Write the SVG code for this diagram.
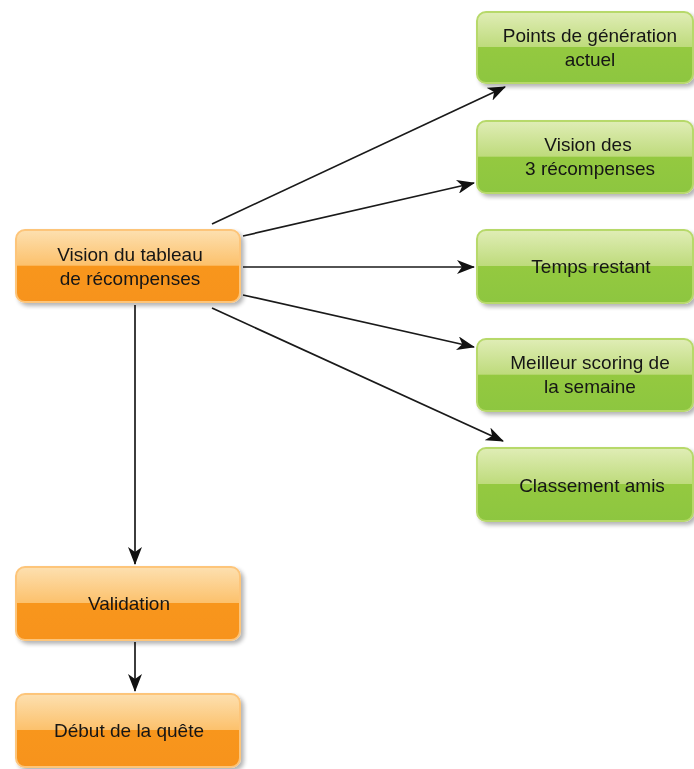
<svg xmlns="http://www.w3.org/2000/svg" width="694" height="769" viewBox="0 0 694 769">
<style>
.t{font-family:"Liberation Sans",Arial,sans-serif;font-size:19px;fill:#151515;text-anchor:middle}
.ob{fill:url(#og);stroke:#fdc57a;stroke-width:2}
.gb{fill:url(#gg);stroke:#b7d96a;stroke-width:2}
.c{stroke:#1a1a1a;stroke-width:1.7;fill:none;marker-end:url(#ah)}
</style>
<defs>
<linearGradient id="og" x1="0" y1="0" x2="0" y2="1">
<stop offset="0" stop-color="#fde0b0"/>
<stop offset="0.49" stop-color="#fcc16c"/>
<stop offset="0.5" stop-color="#f8961f"/>
<stop offset="1" stop-color="#f7931e"/>
</linearGradient>
<linearGradient id="gg" x1="0" y1="0" x2="0" y2="1">
<stop offset="0" stop-color="#e0edb6"/>
<stop offset="0.49" stop-color="#bedb7c"/>
<stop offset="0.5" stop-color="#94c940"/>
<stop offset="1" stop-color="#8dc63f"/>
</linearGradient>
<filter id="sh" x="-10%" y="-10%" width="125%" height="130%">
<feGaussianBlur in="SourceAlpha" stdDeviation="2"/>
<feOffset dx="3" dy="3" result="b"/>
<feComponentTransfer><feFuncA type="linear" slope="0.3"/></feComponentTransfer>
<feMerge><feMergeNode/><feMergeNode in="SourceGraphic"/></feMerge>
</filter>
<marker id="ah" viewBox="0 0 18 14" refX="17" refY="7" markerWidth="18" markerHeight="14" markerUnits="userSpaceOnUse" orient="auto">
<path d="M0,0 L18,7 L0,14 L5,7 Z" fill="#111"/>
</marker>
</defs>
<g id="connectors">
<line class="c" x1="212" y1="224" x2="505" y2="87"/>
<line class="c" x1="243" y1="236" x2="474" y2="183"/>
<line class="c" x1="243" y1="267" x2="474" y2="267"/>
<line class="c" x1="243" y1="295" x2="474" y2="347"/>
<line class="c" x1="212" y1="308" x2="503" y2="441"/>
<line class="c" x1="135" y1="305" x2="135" y2="564"/>
<line class="c" x1="135" y1="642" x2="135" y2="691"/>
</g>
<g id="n-vision-tableau" filter="url(#sh)">
<rect class="ob" x="16" y="230" width="224" height="72" rx="9"/>
<text class="t" x="130" y="261">Vision du tableau</text>
<text class="t" x="130" y="285">de récompenses</text>
</g>
<g id="n-validation" filter="url(#sh)">
<rect class="ob" x="16" y="567" width="224" height="73" rx="9"/>
<text class="t" x="129" y="610">Validation</text>
</g>
<g id="n-debut" filter="url(#sh)">
<rect class="ob" x="16" y="694" width="224" height="73" rx="9"/>
<text class="t" x="129" y="737">Début de la quête</text>
</g>
<g id="n-points" filter="url(#sh)">
<rect class="gb" x="477" y="12" width="216" height="71" rx="9"/>
<text class="t" x="590" y="42">Points de génération</text>
<text class="t" x="590" y="66">actuel</text>
</g>
<g id="n-vision3" filter="url(#sh)">
<rect class="gb" x="477" y="121" width="216" height="72" rx="9"/>
<text class="t" x="588" y="151">Vision des</text>
<text class="t" x="590" y="175">3 récompenses</text>
</g>
<g id="n-temps" filter="url(#sh)">
<rect class="gb" x="477" y="230" width="216" height="73" rx="9"/>
<text class="t" x="591" y="273">Temps restant</text>
</g>
<g id="n-meilleur" filter="url(#sh)">
<rect class="gb" x="477" y="339" width="216" height="72" rx="9"/>
<text class="t" x="590" y="369">Meilleur scoring de</text>
<text class="t" x="590" y="393">la semaine</text>
</g>
<g id="n-classement" filter="url(#sh)">
<rect class="gb" x="477" y="448" width="216" height="73" rx="9"/>
<text class="t" x="592" y="492">Classement amis</text>
</g>
</svg>
